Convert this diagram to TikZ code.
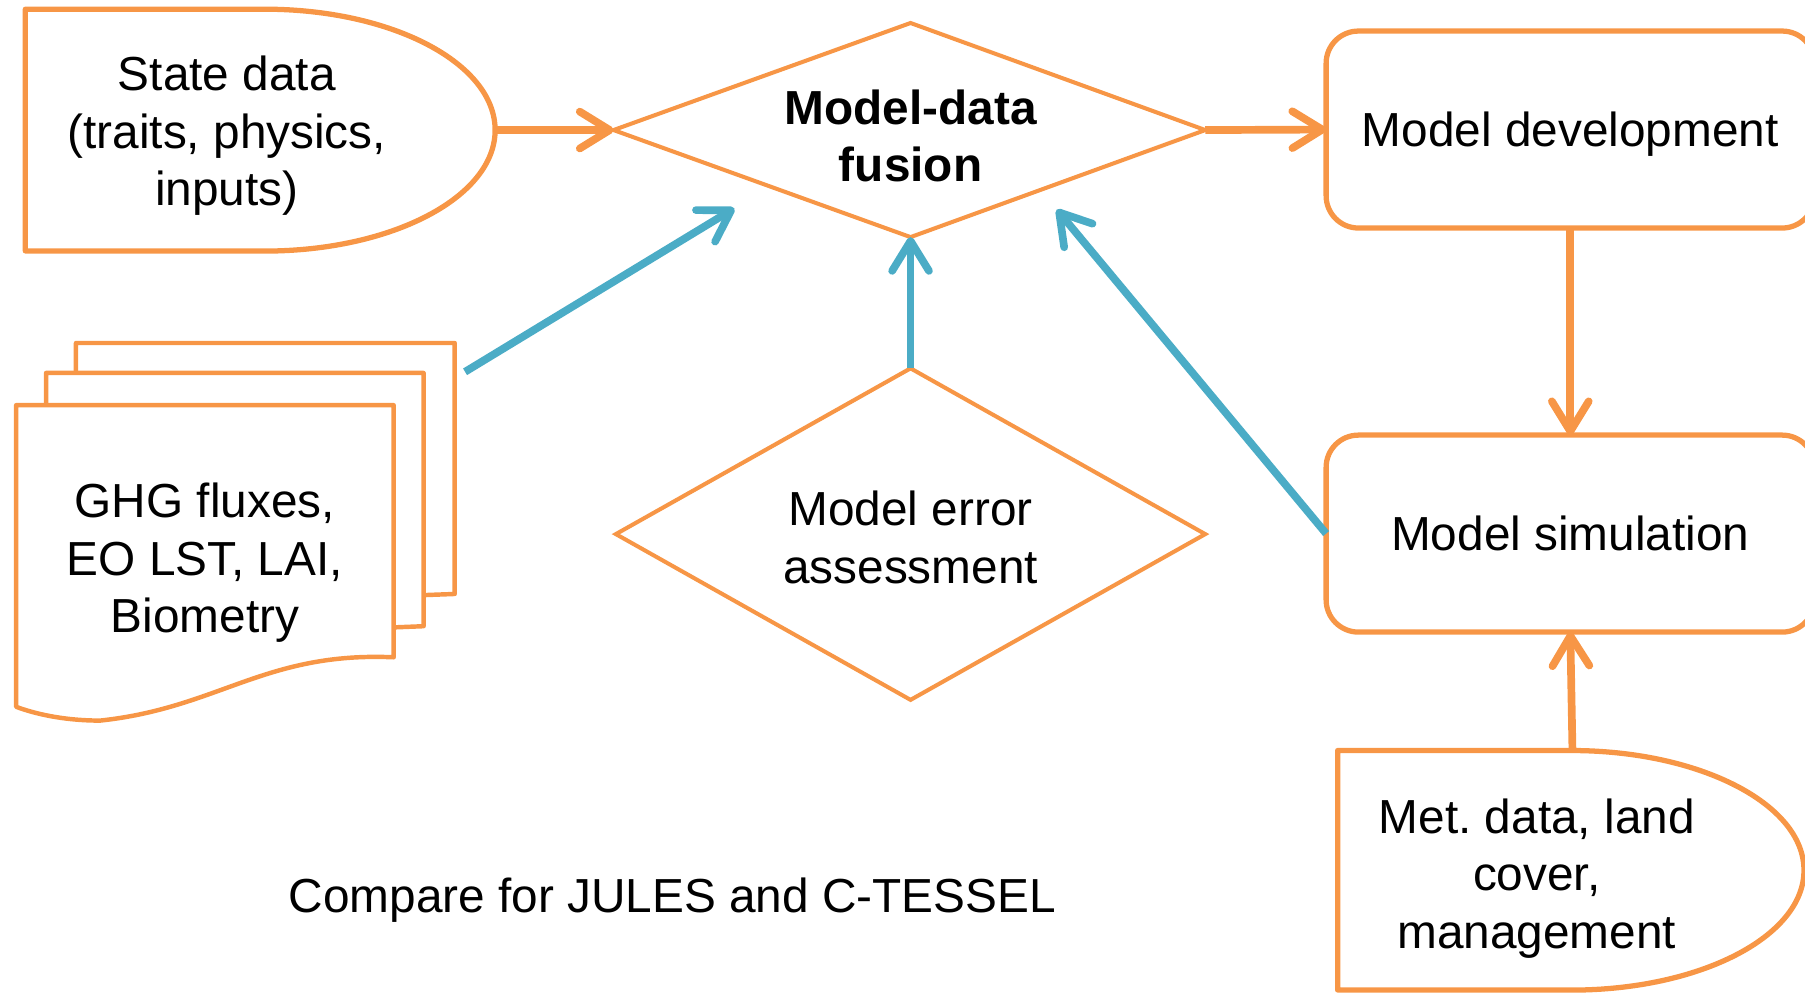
\documentclass[tikz,border=0pt]{standalone}
\usepackage{fontspec}
\setmainfont{Liberation Sans}
\usetikzlibrary{arrows.meta}
\frenchspacing
\definecolor{borange}{HTML}{F79646}
\definecolor{bblue}{HTML}{4BACC6}
\tikzset{
  boxline/.style={draw=borange, line width=1.3pt, line join=round},
  dialine/.style={draw=borange, line width=1pt, line join=miter},
  docline/.style={draw=borange, line width=1.1pt, line join=round},
  rbox/.style={boxline, rounded corners=0.28cm, minimum width=4.24cm, minimum height=1.71cm, anchor=north west, outer sep=0pt, inner sep=0pt, txt, text depth=-0.08cm},
  txt/.style={align=center, font=\fontsize{11.8pt}{14.2pt}\selectfont, inner sep=0pt},
  tip/.style={-{Straight Barb[length=0.26cm,width=0.32cm,line cap=round,line join=round]}},
  oarrow/.style={draw=borange, line width=1.9pt, tip},
  barrow/.style={draw=bblue, line width=1.9pt, tip}
}
\begin{document}
\begin{tikzpicture}[x=0.01cm,y=-0.01cm]
\useasboundingbox (0,0) rectangle (1568,862);

% State data
\draw[boxline] (22,8) -- (230,8) arc[start angle=90,end angle=-90,x radius=2cm,y radius=1.05cm] -- (22,218) -- cycle;
\coordinate (sdR) at (430,113);
\node[txt] (sd) at (197,118) {State data\\(traits, physics,\\inputs)};

% Model-data fusion diamond
\draw[dialine] (791,20) -- (1047,113) -- (791,206) -- (533,113) -- cycle;
\coordinate (mdfL) at (533,113);
\coordinate (mdfR) at (1047,113);
\coordinate (mdfB) at (791,206);
\node[txt, font=\fontsize{11.8pt}{14.2pt}\selectfont\bfseries] (mdf) at (791,118) {Model-data\\fusion};

% Model development / simulation
\node[rbox] (mdev) at (1152,27) {Model development};
\node[rbox] (msim) at (1152,378) {Model simulation};

% Multi document
\draw[docline] (66,324) -- (66,298) -- (395,298) -- (395,516) -- (368,517);
\draw[docline] (40,352) -- (40,324) -- (368,324) -- (368,544) -- (343,545);
\draw[docline] (14,352) -- (342,352) -- (342,571) .. controls (230,566) and (190,615) .. (87,626) .. controls (55,626) and (30,620) .. (14,614) -- cycle;
\coordinate (docR) at (404,323);
\node[txt] (ghg) at (178,489) {GHG fluxes,\\EO LST, LAI,\\Biometry};

% Model error assessment diamond
\draw[dialine] (791,320) -- (1047,464) -- (791,608) -- (535,464) -- cycle;
\coordinate (meaT) at (791,320);
\node[txt] (mea) at (791,467) {Model error\\assessment};

% Met data
\draw[boxline] (1162,860) -- (1162,652) -- (1365,652) arc[start angle=90,end angle=-90,x radius=2.02cm,y radius=1.04cm] -- cycle;
\coordinate (metT) at (1366,652);
\node[txt] (met) at (1335,763) {Met. data, land\\cover,\\management};

% Caption
\node[txt] (cmp) at (584,782) {Compare for JULES and C-TESSEL};

% free ends of blue arrows
\coordinate (b1) at (638,181);
\coordinate (b2) at (918,182);

% connectors
\draw[oarrow] (sdR) -- (mdfL);
\draw[oarrow] (mdfR) -- (mdev.west);
\draw[oarrow] (mdev.south) -- (msim.north);
\draw[oarrow] (metT) -- (msim.south);
\draw[barrow] (meaT) -- (mdfB);
\draw[barrow] (docR) -- (b1);
\draw[barrow] (msim.west) -- (b2);
\end{tikzpicture}
\end{document}
